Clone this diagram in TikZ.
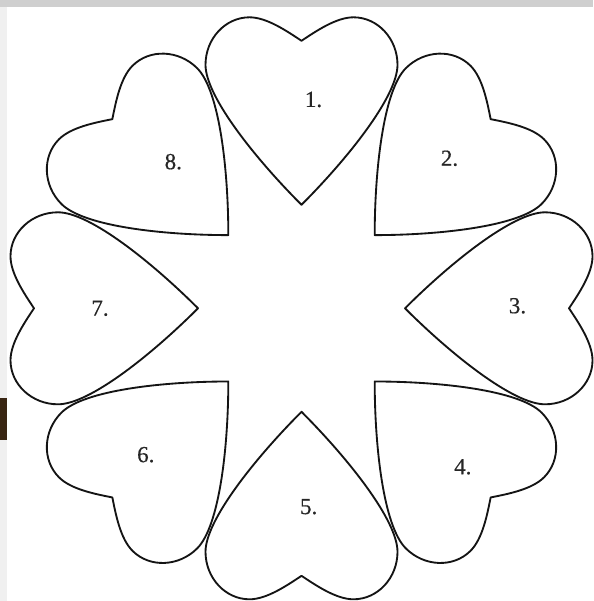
\documentclass[tikz,border=0pt]{standalone}
\usepackage{fontspec}
\setmainfont{Liberation Serif}
\newfontfamily\numfont[FakeBold=0.4]{Liberation Serif}
\tikzset{
  heartline/.style={draw=black!92, line width=1.85pt, line join=round},
  numlabel/.style={font=\numfont\fontsize{23}{27}\selectfont, inner sep=0pt, text=black!85},
}
\begin{document}
\begin{tikzpicture}[x=1pt,y=1pt]
\useasboundingbox (0,0) rectangle (593,-601);
\fill[white] (0,0) rectangle (593,-601);
% screenshot edges
\fill[gray!38] (0,0) rectangle (593,-7);
\fill[gray!12] (0,-7) rectangle (7,-601);
\fill[black!70!brown] (0,-398) rectangle (7,-440);
% hearts
\foreach \k in {0,...,7}{
  \begin{scope}[shift={(301.5,-308.3)}, rotate=-45*\k, shift={(0,103.5)}]
    \draw[heartline] (0,0) .. controls (45,45) and (96,108) .. (96,140)
      .. controls (96,166) and (76.3,187.5) .. (52,187.5)
      .. controls (35,187.5) and (15,174) .. (0,164)
      .. controls (-15,174) and (-35,187.5) .. (-52,187.5)
      .. controls (-76.3,187.5) and (-96,166) .. (-96,140)
      .. controls (-96,108) and (-45,45) .. cycle;
  \end{scope}
}
% labels
\node[numlabel] (l1) at (313.5,-99.5) {1.};
\node[numlabel] (l2) at (449.5,-158.3) {2.};
\node[numlabel] (l3) at (517.5,-305.8) {3.};
\node[numlabel] (l4) at (462.8,-466.8) {4.};
\node[numlabel] (l5) at (308.7,-506.7) {5.};
\node[numlabel] (l6) at (145.8,-454.7) {6.};
\node[numlabel] (l7) at (100,-308.3) {7.};
\node[numlabel] (l8) at (173.3,-161.7) {8.};
\end{tikzpicture}
\end{document}
